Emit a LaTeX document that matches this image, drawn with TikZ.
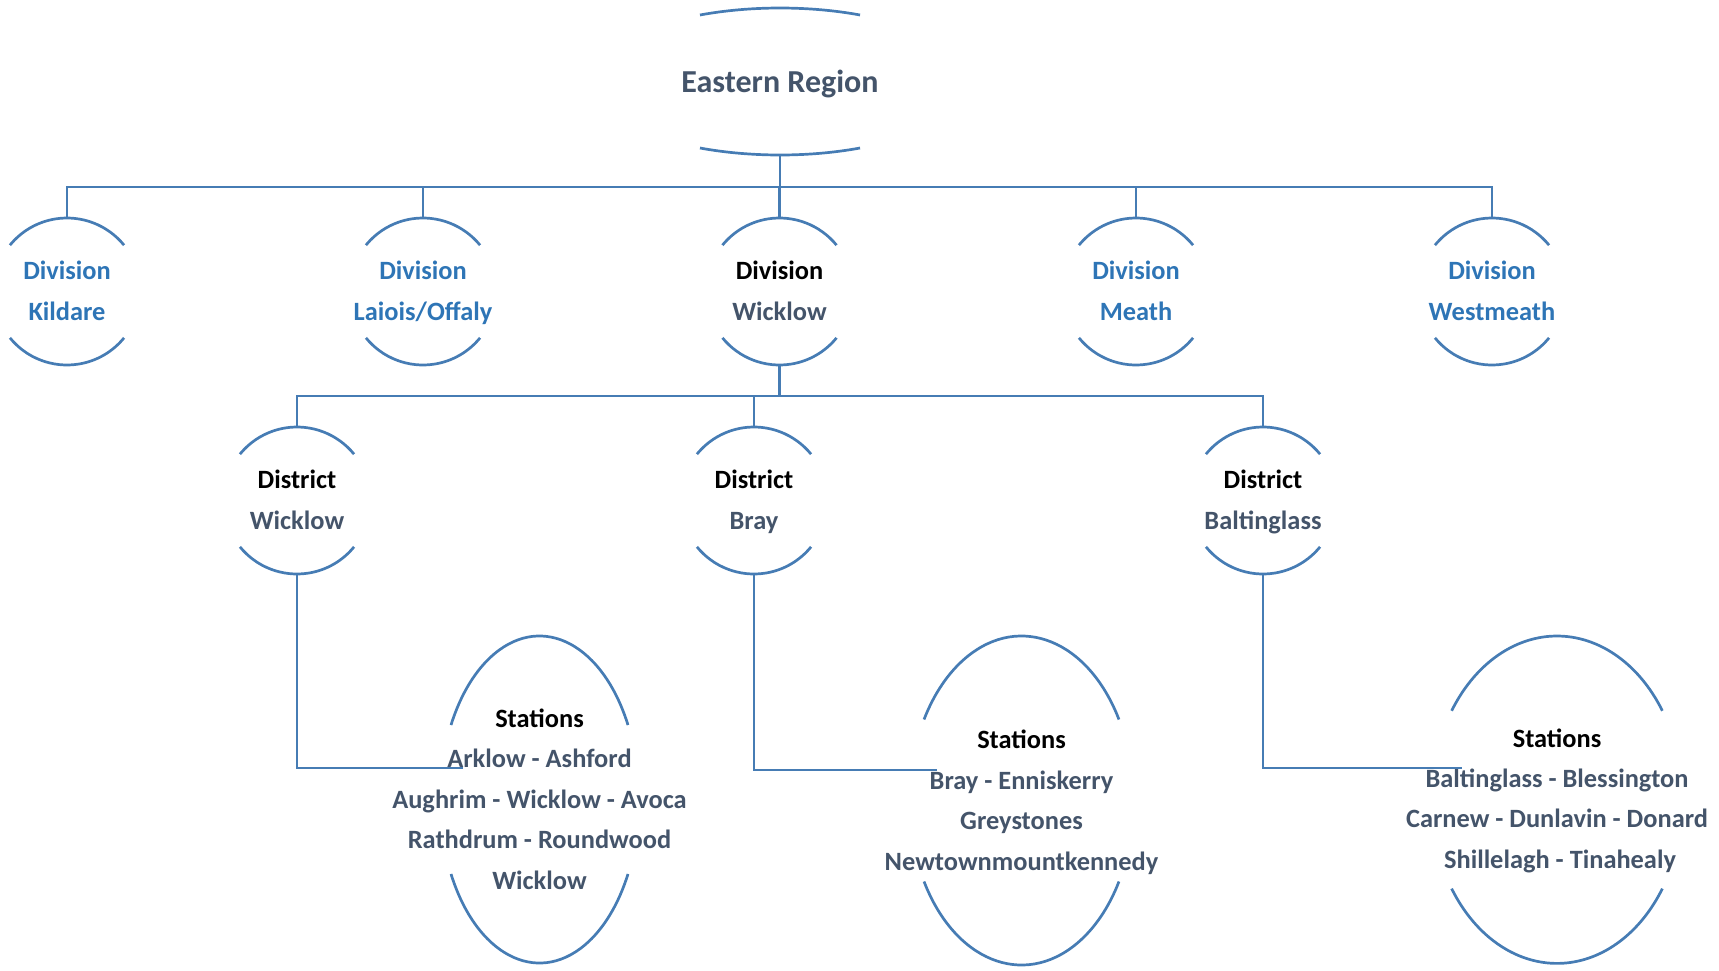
\documentclass[tikz,border=0pt]{standalone}
\usepackage{fontspec}
\setmainfont{Carlito}
\definecolor{lnblue}{RGB}{70,124,180}
\definecolor{txblue}{RGB}{46,117,182}
\definecolor{txdark}{RGB}{68,84,106}
\tikzset{
  ln/.style={draw=lnblue, line width=1.35pt},
  lbl/.style={anchor=base, inner sep=0pt, font=\fontsize{13.2}{15}\selectfont\bfseries},
  big/.style={anchor=base, inner sep=0pt, font=\fontsize{16}{18}\selectfont\bfseries},
}
\newcommand\capshape[6]{%
  \coordinate (#1-t) at (#2,{#3+#5});
  \coordinate (#1-b) at (#2,{#3-#5});
  \draw[ln] ({#2+#4*cos(#6)},{#3+#5*sin(#6)}) arc[start angle=#6, end angle={180-#6}, x radius=#4, y radius=#5];
  \draw[ln] ({#2-#4*cos(#6)},{#3-#5*sin(#6)}) arc[start angle={180+#6}, end angle={360-#6}, x radius=#4, y radius=#5];
}
\begin{document}
\begin{tikzpicture}[x=0.5pt,y=0.5pt]
\useasboundingbox (0,0) rectangle (1719,-970);
% shapes
\capshape{er}{780}{-81.5}{188}{73.5}{64.8}
\capshape{dK}{67}{-291.5}{73.5}{73.5}{39.1}
\capshape{dL}{423}{-291.5}{73.5}{73.5}{39.1}
\capshape{dW}{779.5}{-291.5}{73.5}{73.5}{39.1}
\capshape{dM}{1136}{-291.5}{73.5}{73.5}{39.1}
\capshape{dX}{1492}{-291.5}{73.5}{73.5}{39.1}
\capshape{sW}{297}{-500.5}{73.5}{73.5}{39.1}
\capshape{sB}{754}{-500.5}{73.5}{73.5}{39.1}
\capshape{sG}{1263}{-500.5}{73.5}{73.5}{39.1}
\capshape{tW}{539.5}{-799.5}{99.4}{163.5}{27.1}
\capshape{tB}{1021.5}{-800.5}{112}{164.5}{29.5}
\capshape{tG}{1557}{-799.7}{125.5}{163.7}{32.9}
% texts
\node[big, text=txdark] (erT) at (780,-92.5) {Eastern Region};
\node[lbl, text=txblue] (dK1) at (67,-279.5) {Division};
\node[lbl, text=txblue] (dK2) at (67,-320) {Kildare};
\node[lbl, text=txblue] (dL1) at (423,-279.5) {Division};
\node[lbl, text=txblue] (dL2) at (423,-320) {Laiois/Offaly};
\node[lbl, text=black] (dW1) at (779.5,-279.5) {Division};
\node[lbl, text=txdark] (dW2) at (779.5,-320) {Wicklow};
\node[lbl, text=txblue] (dM1) at (1136,-279.5) {Division};
\node[lbl, text=txblue] (dM2) at (1136,-320) {Meath};
\node[lbl, text=txblue] (dX1) at (1492,-279.5) {Division};
\node[lbl, text=txblue] (dX2) at (1492,-320) {Westmeath};
\node[lbl, text=black] (sW1) at (297,-488.5) {District};
\node[lbl, text=txdark] (sW2) at (297,-529.5) {Wicklow};
\node[lbl, text=black] (sB1) at (754,-488.5) {District};
\node[lbl, text=txdark] (sB2) at (754,-529.5) {Bray};
\node[lbl, text=black] (sG1) at (1263,-488.5) {District};
\node[lbl, text=txdark] (sG2) at (1263,-529.5) {Baltinglass};
\node[lbl, text=black] (tW0) at (539.5,-727) {Stations};
\node[lbl, text=txdark] (tW1) at (539.5,-767.5) {Arklow - Ashford};
\node[lbl, text=txdark] (tW2) at (539.5,-808) {Aughrim - Wicklow - Avoca};
\node[lbl, text=txdark] (tW3) at (539.5,-848.5) {Rathdrum - Roundwood};
\node[lbl, text=txdark] (tW4) at (539.5,-889) {Wicklow};
\node[lbl, text=black] (tB0) at (1021.5,-748.5) {Stations};
\node[lbl, text=txdark] (tB1) at (1021.5,-789) {Bray - Enniskerry};
\node[lbl, text=txdark] (tB2) at (1021.5,-829.5) {Greystones};
\node[lbl, text=txdark] (tB3) at (1021.5,-870) {Newtownmountkennedy};
\node[lbl, text=black] (tG0) at (1557,-747) {Stations};
\node[lbl, text=txdark] (tG1) at (1557,-787) {Baltinglass - Blessington};
\node[lbl, text=txdark] (tG2) at (1557,-827) {Carnew - Dunlavin - Donard};
\node[lbl, text=txdark] (tG3) at (1560,-868) {Shillelagh - Tinahealy};
% connectors
\coordinate (bus1) at (780,-187);
\coordinate (bus2) at (779.5,-396);
\coordinate (cW) at (463,-768);
\coordinate (cB) at (937,-770);
\coordinate (cG) at (1462,-768);
\draw[ln] (er-b) -- (bus1);
\foreach \n in {dK,dL,dW,dM,dX} \draw[ln] (bus1) -| (\n-t);
\draw[ln] (dW-b) -- (bus2);
\foreach \n in {sW,sB,sG} \draw[ln] (bus2) -| (\n-t);
\draw[ln] (sW-b) |- (cW);
\draw[ln] (sB-b) |- (cB);
\draw[ln] (sG-b) |- (cG);
\end{tikzpicture}
\end{document}
